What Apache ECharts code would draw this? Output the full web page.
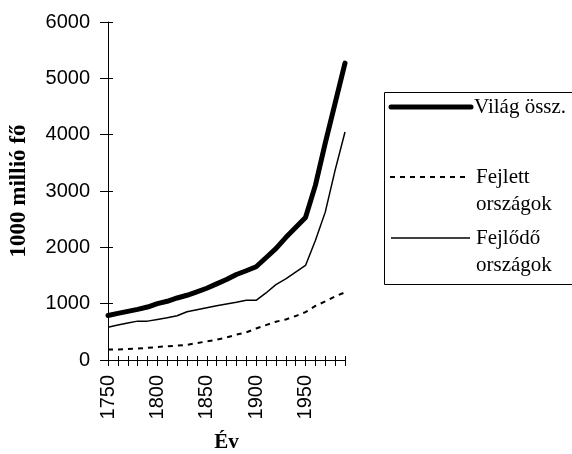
<!DOCTYPE html>
<html>
<head>
<meta charset="utf-8">
<script src="https://cdn.jsdelivr.net/npm/echarts@6/dist/echarts.min.js"></script>
<style>
  html, body { margin: 0; padding: 0; background: #fff; }
  #chart { width: 572px; height: 454px; }
</style>
</head>
<body>
<div id="chart"></div>
<script>
// évek (10 évente)
const years = ['1750', '1760', '1770', '1780', '1790', '1800', '1810', '1820', '1830', '1840',
  '1850', '1860', '1870', '1880', '1890', '1900', '1910', '1920', '1930', '1940',
  '1950', '1960', '1970', '1980', '1990']
// népesség, millió fő
const vilag = [791, 827, 863, 899, 940, 1000, 1042, 1101, 1149, 1208,
  1274, 1351, 1428, 1518, 1585, 1655, 1815, 1976, 2173, 2351,
  2530, 3100, 3850, 4560, 5270]
const fejlett = [185, 188, 195, 205, 215, 230, 245, 255, 270, 300,
  330, 360, 400, 450, 490, 560, 620, 680, 720, 780,
  850, 960, 1040, 1130, 1200]
const fejlodo = [583, 620, 655, 690, 690, 720, 750, 786, 857, 893,
  929, 964, 994, 1024, 1060, 1060, 1190, 1339, 1440, 1560,
  1679, 2120, 2625, 3370, 4048]
const yTicks = { min: 0, max: 6000, interval: 1000 }

const sans = 'Liberation Sans, Arial, sans-serif'
const serif = 'Liberation Serif, Times New Roman, serif'

const chart = echarts.init(document.getElementById('chart'))

const option = {
  backgroundColor: '#fff',
  animation: false,
  grid: { left: 108, right: 227, top: 22, bottom: 94, outerBoundsMode: 'none', containLabel: false },
  xAxis: [
    {
      type: 'category',
      data: years,
      boundaryGap: false,
      name: 'Év',
      nameLocation: 'middle',
      nameGap: 72,
      nameTextStyle: { fontFamily: serif, fontSize: 21, fontWeight: 'bold', color: '#000' },
      axisLine: { lineStyle: { color: '#000', width: 1 } },
      axisTick: { interval: 0, length: 6, lineStyle: { color: '#000' } },
      axisLabel: { interval: 4, rotate: 90, margin: 15, fontFamily: sans, fontSize: 20, color: '#000' },
      splitLine: { show: false }
    },
    {
      // a tengelyt keresztező osztásokhoz
      type: 'category',
      data: years,
      boundaryGap: false,
      position: 'bottom',
      axisLine: { show: false },
      axisTick: { interval: 0, inside: true, length: 4, lineStyle: { color: '#000' } },
      axisLabel: { show: false },
      splitLine: { show: false }
    }
  ],
  yAxis: [
    {
      type: 'value',
      min: yTicks.min,
      max: yTicks.max,
      interval: yTicks.interval,
      name: '1000 millió fő',
      nameLocation: 'middle',
      nameGap: 77,
      nameTextStyle: { fontFamily: serif, fontSize: 23, fontWeight: 'bold', color: '#000' },
      axisLine: { show: true, lineStyle: { color: '#000', width: 1 } },
      axisTick: { show: true, length: 8, lineStyle: { color: '#000' } },
      axisLabel: { margin: 18, fontFamily: sans, fontSize: 20, color: '#000', formatter: v => String(v) },
      splitLine: { show: false }
    },
    {
      type: 'value',
      min: yTicks.min,
      max: yTicks.max,
      interval: yTicks.interval,
      position: 'left',
      axisLine: { show: false },
      axisTick: { show: true, inside: true, length: 5, lineStyle: { color: '#000' } },
      axisLabel: { show: false },
      splitLine: { show: false }
    }
  ],
  series: [
    {
      name: 'Fejlett országok',
      type: 'line',
      data: fejlett,
      symbol: 'none',
      lineStyle: { color: '#000', width: 2, type: [5, 5] }
    },
    {
      name: 'Fejlődő országok',
      type: 'line',
      data: fejlodo,
      symbol: 'none',
      lineStyle: { color: '#000', width: 1.5 }
    },
    {
      name: 'Világ össz.',
      type: 'line',
      data: vilag,
      symbol: 'none',
      lineStyle: { color: '#000', width: 5, cap: 'round', join: 'round' }
    }
  ],
  // jelmagyarázat keretben
  graphic: [
    {
      type: 'rect',
      shape: { x: 384.5, y: 92.5, width: 200, height: 192 },
      style: { fill: '#fff', stroke: '#000', lineWidth: 1 }
    },
    {
      type: 'line',
      shape: { x1: 391, y1: 107, x2: 471, y2: 107 },
      style: { stroke: '#000', lineWidth: 5, lineCap: 'round' }
    },
    {
      type: 'text',
      left: 474, top: 95,
      style: { text: 'Világ össz.', font: '21px ' + serif, fill: '#000', lineHeight: 24 }
    },
    {
      type: 'line',
      shape: { x1: 390, y1: 177, x2: 468, y2: 177 },
      style: { stroke: '#000', lineWidth: 2, lineDash: [5, 5] }
    },
    {
      type: 'text',
      left: 476, top: 164,
      style: { text: 'Fejlett\nországok', font: '21px ' + serif, fill: '#000', lineHeight: 27 }
    },
    {
      type: 'line',
      shape: { x1: 391, y1: 238, x2: 470, y2: 238 },
      style: { stroke: '#000', lineWidth: 1.5 }
    },
    {
      type: 'text',
      left: 476, top: 225,
      style: { text: 'Fejlődő\nországok', font: '21px ' + serif, fill: '#000', lineHeight: 27 }
    }
  ]
}

chart.setOption(option)
</script>
</body>
</html>
